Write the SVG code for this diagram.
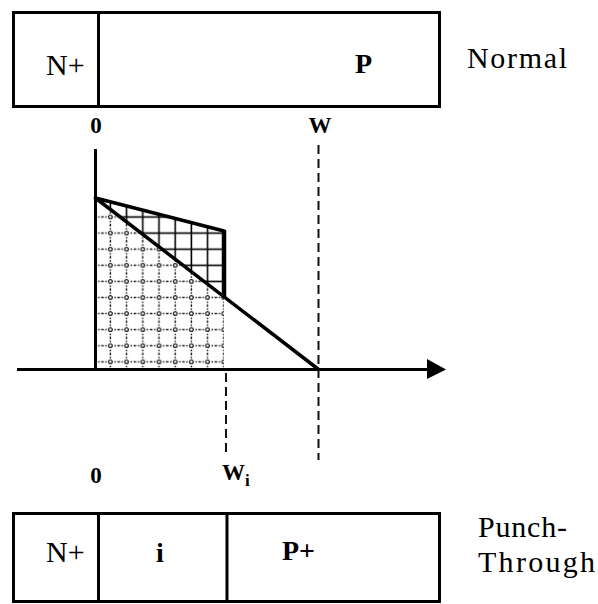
<svg xmlns="http://www.w3.org/2000/svg" width="598" height="604" viewBox="0 0 598 604">
  <style>
    .box { fill: none; stroke: #000; stroke-width: 3; }
    .div { stroke: #000; stroke-width: 3; }
    .t { font-family: 'Liberation Serif', 'Times New Roman', Times, 'DejaVu Serif', serif; fill: #000; }
    .reg { font-size: 30px; }
    .bld { font-size: 28px; font-weight: bold; }
    .lbl { font-size: 23px; font-weight: bold; }
    .axis { stroke: #000; stroke-width: 3; fill: none; }
    .thick { stroke: #000; stroke-width: 3.5; fill: none; stroke-linecap: round; }
    .dash { stroke: #111; stroke-width: 2; stroke-dasharray: 9 5; fill: none; }
  </style>
  <defs>
    <pattern id="dots" patternUnits="userSpaceOnUse" x="102.4" y="208.9" width="16.2" height="16.1">
      <line x1="8" y1="0" x2="8" y2="16.1" stroke="#111" stroke-width="1.4" stroke-dasharray="1.4 1.6"/>
      <line x1="0" y1="8.1" x2="16.2" y2="8.1" stroke="#111" stroke-width="1.4" stroke-dasharray="1.4 1.6"/>
      <circle cx="8" cy="8.1" r="1.8" fill="#fff" stroke="#222" stroke-width="1.2"/>
    </pattern>
    <pattern id="grid" patternUnits="userSpaceOnUse" x="102.4" y="208.9" width="16.2" height="16.1">
      <line x1="8" y1="0" x2="8" y2="16.1" stroke="#000" stroke-width="1.6"/>
      <line x1="0" y1="8.1" x2="16.2" y2="8.1" stroke="#000" stroke-width="1.6"/>
    </pattern>
  </defs>
  <rect width="598" height="604" fill="#fff"/>

  <g id="normal-device">
    <rect class="box" x="13.5" y="12.5" width="426" height="94"/>
    <line class="div" x1="98.5" y1="12.5" x2="98.5" y2="106.5"/>
    <text class="t reg" x="46" y="75">N+</text>
    <text class="t bld" x="355" y="73">P</text>
    <text class="t reg" x="467" y="68" textLength="100" lengthAdjust="spacing">Normal</text>
  </g>

  <g id="top-labels">
    <text class="t lbl" x="96" y="133" text-anchor="middle">0</text>
    <text class="t lbl" x="320" y="133" text-anchor="middle">W</text>
  </g>

  <g id="field-plot">
    <polygon points="95.5,198 224,297 224,369 95.5,369" fill="url(#dots)"/>
    <polygon points="95.5,198 224,231 224,297" fill="#fff"/>
    <polygon points="95.5,198 224,231 224,297" fill="url(#grid)"/>
    <line class="thick" x1="95.5" y1="198" x2="224" y2="231"/>
    <line x1="224" y1="230" x2="224" y2="298" stroke="#000" stroke-width="4.5"/>
    <line class="thick" x1="95.5" y1="198" x2="318" y2="369"/>
  </g>

  <g id="connectors">
    <line class="axis" x1="95.5" y1="149" x2="95.5" y2="369"/>
    <line class="axis" x1="17" y1="369.5" x2="430" y2="369.5"/>
    <polygon points="427,359 446,369.5 427,379" fill="#000"/>
    <line class="dash" x1="318.5" y1="145" x2="318.5" y2="460"/>
    <line class="dash" x1="226" y1="373" x2="226" y2="453"/>
  </g>

  <g id="bottom-labels">
    <text class="t lbl" x="96" y="483" text-anchor="middle">0</text>
    <text class="t lbl" x="222" y="480">W<tspan font-size="17" dy="6">i</tspan></text>
  </g>

  <g id="punch-through-device">
    <rect class="box" x="13.5" y="513.5" width="426" height="88"/>
    <line class="div" x1="98.5" y1="513.5" x2="98.5" y2="601.5"/>
    <line class="div" x1="227" y1="513.5" x2="227" y2="601.5"/>
    <text class="t reg" x="46" y="562">N+</text>
    <text class="t bld" x="160" y="562" text-anchor="middle">i</text>
    <text class="t bld" x="282" y="560">P+</text>
    <text class="t reg" x="478" y="537" textLength="89" lengthAdjust="spacing">Punch-</text>
    <text class="t reg" x="478" y="572" textLength="117" lengthAdjust="spacing">Through</text>
  </g>
</svg>
